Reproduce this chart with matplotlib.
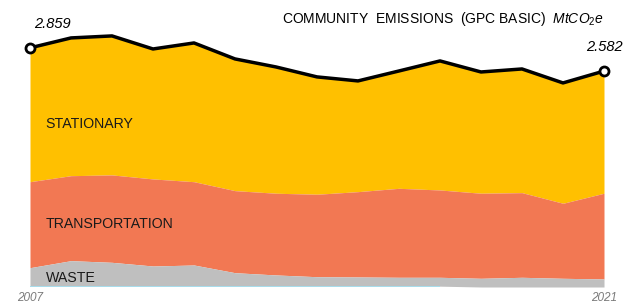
import matplotlib.pyplot as plt
import numpy as np

plt.rcParams['font.family'] = ['Liberation Sans', 'DejaVu Sans']
plt.rcParams['mathtext.fontset'] = 'custom'
plt.rcParams['mathtext.rm'] = 'Liberation Sans'
plt.rcParams['mathtext.it'] = 'Liberation Sans:italic'

# MtCO2e par secteur
years = list(range(2007, 2022))
stationary = [1.600, 1.647, 1.662, 1.554, 1.659, 1.575, 1.510, 1.403, 1.324, 1.403, 1.543, 1.450, 1.479, 1.439, 1.461]
transportation = [1.028, 1.016, 1.045, 1.041, 0.996, 0.981, 0.977, 0.986, 1.020, 1.064, 1.044, 1.017, 1.012, 0.897, 1.025]
waste = [0.221, 0.305, 0.285, 0.241, 0.253, 0.161, 0.134, 0.113, 0.110, 0.106, 0.106, 0.104, 0.116, 0.104, 0.096]
other = [0.010] * 11  # seulement jusqu'a 2017
total_start = 2.859
total_end = 2.582

yrs = np.array(years)
oth = np.array(other + [0.0] * (len(years) - len(other)))
w = np.array(waste) + oth
t = w + np.array(transportation)
s = t + np.array(stationary)

fig = plt.figure(figsize=(6.36, 3.06), dpi=100)
ax = fig.add_axes([30/636, 19/306, 574/636, 276/306])

ax.fill_between(yrs, t, s, color='#FFC000', linewidth=0)
ax.fill_between(yrs, w, t, color='#F27853', linewidth=0)
ax.fill_between(yrs, oth, w, color='#BFBFBF', linewidth=0)
ax.fill_between(yrs[:len(other)], 0, other, color='#A8DCEB', linewidth=0)

ax.plot(yrs, s, color='black', linewidth=2.5, solid_joinstyle='round', zorder=5)
ax.plot([yrs[0], yrs[-1]], [s[0], s[-1]], 'o', color='black', markerfacecolor='white',
        markersize=6.5, markeredgewidth=2, zorder=6, clip_on=False)

ax.set_xlim(2007, 2021)
ax.set_ylim(0, 3.3)
ax.axis('off')

lab = dict(fontsize=10.2, va='center', color='#1a1a1a')
ax.text(2007.38, 1.95, 'STATIONARY', **lab)
ax.text(2007.38, 0.75, 'TRANSPORTATION', **lab)
ax.text(2007.38, 0.11, 'WASTE', **lab)

ax.text(2007.1, s[0] + 0.2, f'{total_start:.3f}', fontsize=10.5, style='italic', ha='left', va='bottom')
ax.text(2021.0, s[-1] + 0.2, f'{total_end:.3f}', fontsize=10.5, style='italic', ha='center', va='bottom')

fig.text(604/636, 1 - 19/306, r'COMMUNITY  EMISSIONS  (GPC BASIC)  $\mathit{MtCO_2e}$',
         fontsize=10, ha='right', va='center')

fig.text(30/636, 1 - 298/306, '2007', fontsize=8.5, style='italic', color='#7a7a7a', ha='center', va='center')
fig.text(604/636, 1 - 298/306, '2021', fontsize=8.5, style='italic', color='#7a7a7a', ha='center', va='center')

plt.savefig('out.png', dpi=100)
